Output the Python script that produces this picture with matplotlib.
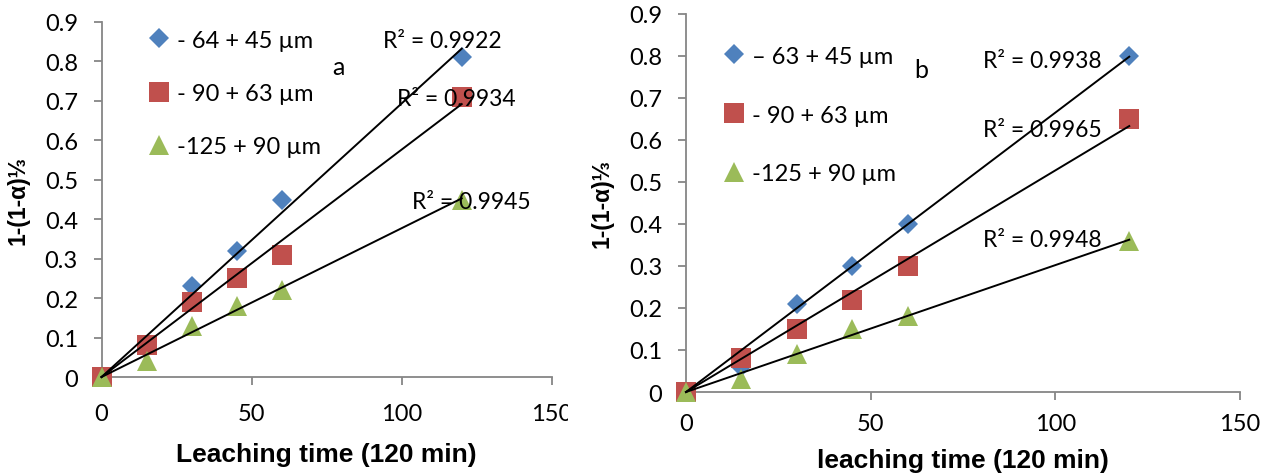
import matplotlib
matplotlib.use("Agg")
import matplotlib.pyplot as plt
import numpy as np
from matplotlib.transforms import Bbox, TransformedBbox

# Leaching time (min)
time_min = [0, 15, 30, 45, 60, 120]

# Panel a: 1-(1-alpha)^(1/3) for each particle size fraction
a_64_45 = [0, 0.08, 0.23, 0.32, 0.45, 0.81]
a_90_63 = [0, 0.08, 0.19, 0.25, 0.31, 0.71]
a_125_90 = [0, 0.04, 0.13, 0.18, 0.22, 0.45]
a_labels = ["- 64 + 45 µm", "- 90 + 63 µm", "-125 + 90 µm"]
a_r2 = ["0.9922", "0.9934", "0.9945"]

# Panel b
b_63_45 = [0, 0.06, 0.21, 0.30, 0.40, 0.80]
b_90_63 = [0, 0.08, 0.15, 0.22, 0.30, 0.65]
b_125_90 = [0, 0.03, 0.09, 0.15, 0.18, 0.36]
b_labels = ["– 63 + 45 µm", "- 90 + 63 µm", "-125 + 90 µm"]
b_r2 = ["0.9938", "0.9965", "0.9948"]

x_ticks = [0, 50, 100, 150]
y_ticks = [0, 0.1, 0.2, 0.3, 0.4, 0.5, 0.6, 0.7, 0.8, 0.9]
y_ticklabels = ["0", "0.1", "0.2", "0.3", "0.4", "0.5", "0.6", "0.7", "0.8", "0.9"]

colors = ["#4F81BD", "#C0504D", "#9BBB59"]
markers = ["D", "s", "^"]
msizes = [10.5, 14, 14.5]
GRAY = "#868686"
TICK_FONT = "Lato"
LABEL_FONT = "Liberation Sans"

fig = plt.figure(figsize=(12.69, 4.77), dpi=100)


def panel(rect, series, labels, r2, r2_pos, tag, tag_pos, xlabel,
          leg_anchor, leg_space, xpad, xlabelpad):
    ax = fig.add_axes(rect)
    x = np.array(time_min, dtype=float)
    handles = []
    for ys, c, m, ms, lab in zip(series, colors, markers, msizes, labels):
        y = np.array(ys, dtype=float)
        h, = ax.plot(x, y, linestyle="none", marker=m, ms=ms, color=c,
                     markeredgewidth=0, clip_on=False, zorder=3, label=lab)
        handles.append(h)
    # linear trendlines forced through the origin
    for ys in series:
        y = np.array(ys, dtype=float)
        k = np.sum(x * y) / np.sum(x * x)
        ax.plot([0, x.max()], [0, k * x.max()], color="black", lw=1.4,
                zorder=4, clip_on=False)
    for val, (tx, ty) in zip(r2, r2_pos):
        ax.text(tx, ty, "R² = " + val, fontsize=16.5, family=TICK_FONT,
                va="center", ha="left", zorder=5)
    ax.text(tag_pos[0], tag_pos[1], tag, fontsize=18, family=TICK_FONT,
            va="center", ha="center")

    ax.set_xlim(0, 150)
    ax.set_ylim(0, 0.9)
    ax.set_xticks(x_ticks)
    ax.set_xticklabels([str(t) for t in x_ticks])
    ax.set_yticks(y_ticks)
    ax.set_yticklabels(y_ticklabels)
    for s in ["top", "right"]:
        ax.spines[s].set_visible(False)
    for s in ["left", "bottom"]:
        ax.spines[s].set_color(GRAY)
        ax.spines[s].set_linewidth(1.3)
    ax.tick_params(direction="out", length=6, width=1.3, color=GRAY,
                   labelsize=17)
    ax.tick_params(axis="y", pad=11)
    ax.tick_params(axis="x", pad=xpad)
    for lab in ax.get_xticklabels() + ax.get_yticklabels():
        lab.set_family(TICK_FONT)
    ax.set_xlabel(xlabel, fontsize=19, fontweight="bold", family=LABEL_FONT,
                  labelpad=xlabelpad)
    ax.set_ylabel("1-(1-α)⅓", fontsize=16.5, fontweight="bold",
                  family=LABEL_FONT, labelpad=11)
    ax.legend(handles=handles, loc="upper left", bbox_to_anchor=leg_anchor,
              bbox_transform=fig.transFigure, frameon=False,
              prop={"family": TICK_FONT, "size": 17},
              handlelength=0.9, handletextpad=0.3, labelspacing=leg_space,
              borderaxespad=0, borderpad=0)
    return ax


ax_a = panel([0.0800, 0.2075, 0.3548, 0.7443],
             [a_64_45, a_90_63, a_125_90], a_labels, a_r2,
             [(93.8, 0.852), (98.5, 0.705), (103.5, 0.444)],
             "a", (78.8, 0.788), "Leaching time (120 min)",
             (0.117, 0.936), 1.37, 13, 13)

ax_b = panel([0.5406, 0.1761, 0.4366, 0.7925],
             [b_63_45, b_90_63, b_125_90], b_labels, b_r2,
             [(80.4, 0.790), (80.4, 0.626), (80.4, 0.362)],
             "b", (63.6, 0.769), "leaching time (120 min)",
             (0.570, 0.902), 1.6, 9, 10)

# the right edge of the left panel crops its last tick label
clip = TransformedBbox(Bbox([[0, 0], [568 / 1269, 1]]), fig.transFigure)
for lab in ax_a.get_xticklabels():
    lab.set_clip_box(clip)
    lab.set_clip_on(True)

fig.savefig("out.png", dpi=100)
